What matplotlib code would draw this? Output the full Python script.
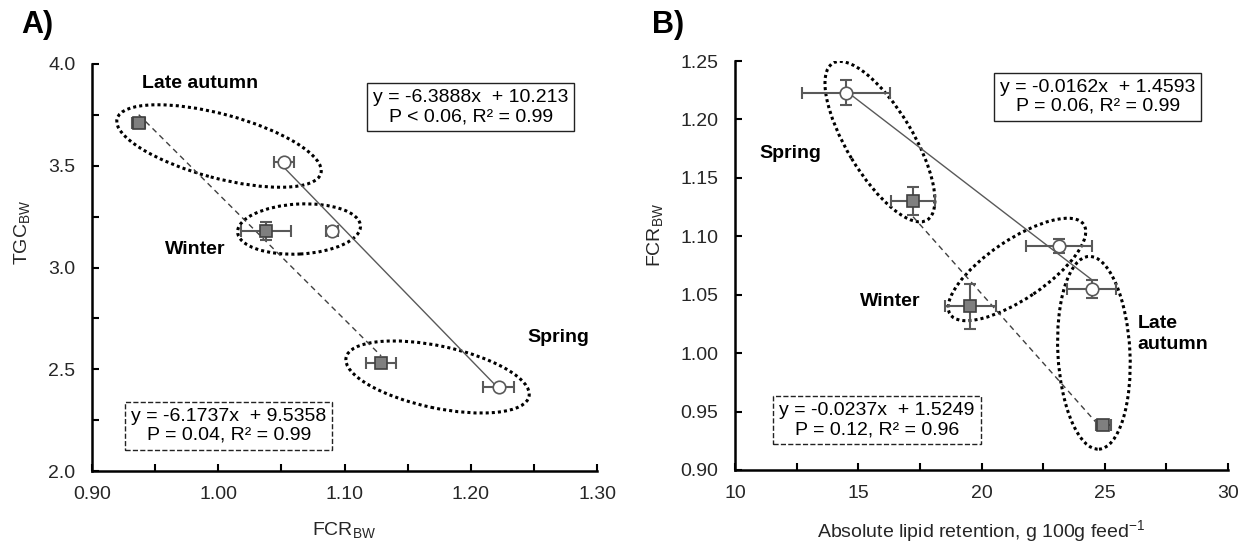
import matplotlib
matplotlib.use('Agg')
import matplotlib.pyplot as plt
import matplotlib.transforms as mtransforms
from matplotlib.patches import Ellipse
from matplotlib.ticker import MultipleLocator, FormatStrFormatter
import numpy as np

plt.rcParams['font.family'] = ['Liberation Sans', 'DejaVu Sans']
plt.rcParams['mathtext.default'] = 'regular'

# === Panel A data (order: late autumn, winter, spring) ===
a_fcr_closed = [0.937, 1.038, 1.129]
a_fcr_closed_err = [0.005, 0.020, 0.012]
a_tgc_closed = [3.71, 3.18, 2.53]
a_tgc_closed_err = [0.02, 0.045, 0.02]

a_fcr_open = [1.052, 1.090, 1.222]
a_fcr_open_err = [0.008, 0.005, 0.012]
a_tgc_open = [3.52, 3.18, 2.415]
a_tgc_open_err = [0.01, 0.015, 0.01]

a_fit_open = (-6.3888, 10.213)
a_fit_closed = (-6.1737, 9.5358)

# === Panel B data (order: late autumn, winter, spring) ===
b_lip_closed = [24.94, 19.54, 17.22]
b_lip_closed_err = [0.3, 1.04, 0.89]
b_fcr_closed = [0.9386, 1.040, 1.130]
b_fcr_closed_err = [0.004, 0.019, 0.012]

b_lip_open = [24.47, 23.15, 14.50]
b_lip_open_err = [0.99, 1.33, 1.79]
b_fcr_open = [1.055, 1.092, 1.223]
b_fcr_open_err = [0.008, 0.006, 0.011]

b_fit_open = (-0.0162, 1.4593)
b_fit_closed = (-0.0237, 1.5249)

GREY_LINE = '#595959'


def draw_ellipse(ax, cx, cy, w_px, h_px, angle):
    # size in pixels, centre in data coords
    tr = mtransforms.ScaledTranslation(cx, cy, ax.transData)
    e = Ellipse((0, 0), w_px, h_px, angle=angle, transform=tr, fill=False,
                ls=(0, (1, 1)), lw=2.2, color='black', zorder=1)
    ax.add_patch(e)


def draw_series(ax, x, xerr, y, yerr, fit, closed):
    xs = np.array([min(x), max(x)])
    ax.plot(xs, fit[0] * xs + fit[1], color='#404040' if closed else GREY_LINE,
            lw=1.0, ls=(0, (4, 3)) if closed else '-', zorder=2)
    ax.errorbar(x, y, xerr=xerr, yerr=yerr, fmt='none', ecolor=GREY_LINE,
                elinewidth=1.5, capsize=4, capthick=1.5, zorder=3)
    if closed:
        ax.plot(x, y, 's', ms=9, mfc='#7f7f7f', mec='#404040', mew=1.2, ls='none', zorder=4)
    else:
        ax.plot(x, y, 'o', ms=9, mfc='white', mec=GREY_LINE, mew=1.2, ls='none', zorder=4)


def style_axes(ax):
    for s in ['top', 'right']:
        ax.spines[s].set_visible(False)
    for s in ['left', 'bottom']:
        ax.spines[s].set_linewidth(1.8)
    ax.tick_params(which='both', direction='in', length=5, width=1.5, labelsize=14,
                   labelcolor='#262626')
    ax.tick_params(axis='x', pad=11)
    ax.tick_params(axis='y', pad=12)


def eq_box(ax, x, y, txt, dashed):
    ax.text(x, y, txt, transform=ax.transAxes, ha='center', va='center', fontsize=14,
            linespacing=1.15,
            bbox=dict(boxstyle='square,pad=0.3', fc='white', ec='#222222', lw=1.0,
                      ls='--' if dashed else '-'))


fig = plt.figure(figsize=(12.41, 5.46), dpi=100)

# === Panel A ===
axA = fig.add_axes([92 / 1241, (546 - 471) / 546, 505 / 1241, 407 / 546])
draw_ellipse(axA, 1.0006, 3.597, 211, 64, -15)
draw_ellipse(axA, 1.064, 3.189, 123, 50, 3)
draw_ellipse(axA, 1.1737, 2.462, 187, 62, -12)
draw_series(axA, a_fcr_open, a_fcr_open_err, a_tgc_open, a_tgc_open_err, a_fit_open, False)
draw_series(axA, a_fcr_closed, a_fcr_closed_err, a_tgc_closed, a_tgc_closed_err, a_fit_closed, True)
axA.set_xlim(0.90, 1.30)
axA.set_ylim(2.0, 4.0)
axA.xaxis.set_major_locator(MultipleLocator(0.1))
axA.xaxis.set_minor_locator(MultipleLocator(0.05))
axA.yaxis.set_major_locator(MultipleLocator(0.5))
axA.yaxis.set_minor_locator(MultipleLocator(0.25))
axA.xaxis.set_major_formatter(FormatStrFormatter('%.2f'))
axA.yaxis.set_major_formatter(FormatStrFormatter('%.1f'))
style_axes(axA)
axA.set_xlabel('FCR$_{BW}$', fontsize=14, color='#262626')
axA.set_ylabel('TGC$_{BW}$', fontsize=14, color='#262626')
axA.xaxis.set_label_coords(0.5, -0.145)
axA.xaxis.label.set_va('center')
axA.yaxis.set_label_coords(-0.139, 0.587)
axA.yaxis.label.set_va('center')

axA.text(0.214, 0.953, 'Late autumn', transform=axA.transAxes, ha='center', va='center',
         fontsize=14, fontweight='bold')
axA.text(0.204, 0.543, 'Winter', transform=axA.transAxes, ha='center', va='center',
         fontsize=14, fontweight='bold')
axA.text(0.923, 0.329, 'Spring', transform=axA.transAxes, ha='center', va='center',
         fontsize=14, fontweight='bold')
eq_box(axA, 0.750, 0.894, 'y = -6.3888x  + 10.213\nP < 0.06, R² = 0.99', False)
eq_box(axA, 0.271, 0.111, 'y = -6.1737x  + 9.5358\nP = 0.04, R² = 0.99', True)

# === Panel B ===
axB = fig.add_axes([735 / 1241, (546 - 470) / 546, 493 / 1241, 409 / 546])
draw_ellipse(axB, 15.88, 1.181, 183, 66, -59)
draw_ellipse(axB, 21.44, 1.0716, 161, 59, 34)
draw_ellipse(axB, 24.56, 1.0003, 72, 193, 3)
draw_series(axB, b_lip_open, b_lip_open_err, b_fcr_open, b_fcr_open_err, b_fit_open, False)
draw_series(axB, b_lip_closed, b_lip_closed_err, b_fcr_closed, b_fcr_closed_err, b_fit_closed, True)
axB.set_xlim(10, 30)
axB.set_ylim(0.90, 1.25)
axB.xaxis.set_major_locator(MultipleLocator(5))
axB.xaxis.set_minor_locator(MultipleLocator(2.5))
axB.yaxis.set_major_locator(MultipleLocator(0.05))
axB.yaxis.set_major_formatter(FormatStrFormatter('%.2f'))
style_axes(axB)
axB.set_xlabel('Absolute lipid retention, g 100g feed$^{-1}$', fontsize=14, color='#262626')
axB.set_ylabel('FCR$_{BW}$', fontsize=14, color='#262626')
axB.xaxis.set_label_coords(0.5, -0.15)
axB.xaxis.label.set_va('center')
axB.yaxis.set_label_coords(-0.163, 0.575)
axB.yaxis.label.set_va('center')

axB.text(0.112, 0.773, 'Spring', transform=axB.transAxes, ha='center', va='center',
         fontsize=14, fontweight='bold')
axB.text(0.314, 0.412, 'Winter', transform=axB.transAxes, ha='center', va='center',
         fontsize=14, fontweight='bold')
axB.text(0.817, 0.332, 'Late\nautumn', transform=axB.transAxes, ha='left', va='center',
         fontsize=14, fontweight='bold', linespacing=1.3)
eq_box(axB, 0.736, 0.912, 'y = -0.0162x  + 1.4593\nP = 0.06, R² = 0.99', False)
eq_box(axB, 0.288, 0.122, 'y = -0.0237x  + 1.5249\nP = 0.12, R² = 0.96', True)

# panel letters
fig.text(21 / 1241, 1 - 25 / 546, 'A)', fontsize=22, fontweight='bold', va='center', ha='left')
fig.text(652 / 1241, 1 - 25 / 546, 'B)', fontsize=22, fontweight='bold', va='center', ha='left')

fig.savefig('out.png', dpi=100)
